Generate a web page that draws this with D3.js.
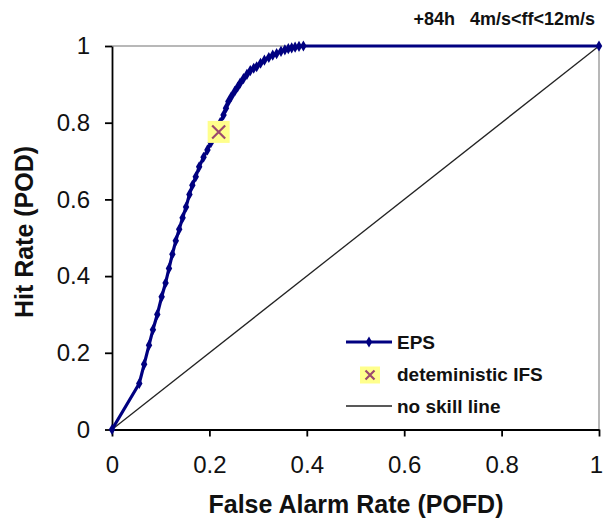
<!DOCTYPE html>
<html>
<head>
<meta charset="utf-8">
<script src="https://cdn.jsdelivr.net/npm/d3@7"></script>
<style>
  body { margin: 0; background: #fff; }
  text { font-family: "Liberation Sans", Arial, sans-serif; }
</style>
</head>
<body>
<div id="chart"></div>
<script>
// EPS ROC curve (false alarm rate vs hit rate)
const epsFar = [0, 0.056, 0.066, 0.076, 0.084, 0.093, 0.102, 0.110, 0.117, 0.124, 0.131, 0.138, 0.145, 0.152,
  0.159, 0.165, 0.172, 0.179, 0.188, 0.196, 0.203, 0.210, 0.216, 0.222, 0.229, 0.234, 0.239, 0.245, 0.252,
  0.258, 0.263, 0.270, 0.277, 0.284, 0.291, 0.297, 0.305, 0.313, 0.322, 0.330, 0.338, 0.347, 0.355, 0.362,
  0.369, 0.376, 0.384, 0.393, 1];
const epsHr = [0, 0.12, 0.17, 0.22, 0.26, 0.30, 0.346, 0.382, 0.42, 0.457, 0.492, 0.522, 0.552, 0.58,
  0.613, 0.637, 0.659, 0.685, 0.71, 0.729, 0.748, 0.765, 0.78, 0.80, 0.82, 0.838, 0.855, 0.868, 0.882,
  0.893, 0.903, 0.915, 0.926, 0.936, 0.942, 0.946, 0.955, 0.963, 0.970, 0.976, 0.980, 0.986, 0.990, 0.993,
  0.995, 0.997, 0.999, 1.0, 1.0];

// deterministic IFS point
const ifsFar = [0.219];
const ifsHr = [0.776];

// no skill line
const noSkillFar = [0, 1];
const noSkillHr = [0, 1];

const tickValues = [0, 0.2, 0.4, 0.6, 0.8, 1];
const legendLabels = ["EPS", "deteministic IFS", "no skill line"];
const titleText = "+84h\u00a0\u00a0 4m/s<ff<12m/s";

const width = 603, height = 524;
const navy = "#000080";

const x = d3.scaleLinear().domain([0, 1]).range([112, 599]);
const y = d3.scaleLinear().domain([0, 1]).range([429.5, 46]);

const svg = d3.select("#chart").append("svg")
  .attr("width", width)
  .attr("height", height);

// top gridline and right border
svg.append("line")
  .attr("x1", x(0)).attr("x2", x(1))
  .attr("y1", y(1)).attr("y2", y(1))
  .attr("stroke", "#a0a0a0").attr("stroke-width", 1.5);
svg.append("line")
  .attr("x1", x(1)).attr("x2", x(1))
  .attr("y1", y(1)).attr("y2", y(0))
  .attr("stroke", "#a0a0a0").attr("stroke-width", 1.5);

// no skill line
const noSkill = noSkillFar.map((d, i) => [d, noSkillHr[i]]);
svg.append("path")
  .datum(noSkill)
  .attr("fill", "none")
  .attr("stroke", "#222")
  .attr("stroke-width", 1.3)
  .attr("d", d3.line().x(d => x(d[0])).y(d => y(d[1])));

// axes
const fmt = d3.format("~g");
const xAxis = svg.append("g")
  .attr("transform", `translate(0,${y(0)})`)
  .call(d3.axisBottom(x).tickValues(tickValues).tickFormat(fmt).tickSize(7).tickSizeOuter(0).tickPadding(19));
const yAxis = svg.append("g")
  .attr("transform", `translate(${x(0)},0)`)
  .call(d3.axisLeft(y).tickValues(tickValues).tickFormat(fmt).tickSize(7).tickSizeOuter(0).tickPadding(15));

[xAxis, yAxis].forEach(g => {
  g.select(".domain").attr("stroke", "#000").attr("stroke-width", 1.8);
  g.selectAll(".tick line").attr("stroke", "#000").attr("stroke-width", 1.8);
  g.selectAll(".tick text")
    .attr("fill", "#111")
    .style("font-size", "24px")
    .style("font-family", "'Liberation Sans', Arial, sans-serif");
});
// keep the last x label inside the window
xAxis.selectAll(".tick text").filter(d => d === 1).attr("dx", -3);

// EPS curve
const eps = epsFar.map((d, i) => [d, epsHr[i]]);
svg.append("path")
  .datum(eps)
  .attr("fill", "none")
  .attr("stroke", navy)
  .attr("stroke-width", 3.2)
  .attr("stroke-linejoin", "round")
  .attr("d", d3.line().x(d => x(d[0])).y(d => y(d[1])));

const diamond = d3.symbol().type(d3.symbolDiamond).size(36);
svg.selectAll(".eps-marker")
  .data(eps)
  .enter()
  .append("path")
  .attr("class", "eps-marker")
  .attr("transform", d => `translate(${x(d[0])},${y(d[1])})`)
  .attr("d", diamond)
  .attr("fill", navy);

// IFS marker
function ifsMarker(g, cx, cy, w, h, r) {
  g.append("rect")
    .attr("x", cx - w / 2).attr("y", cy - h / 2)
    .attr("width", w).attr("height", h)
    .attr("fill", "#ffff8c");
  g.append("path")
    .attr("d", `M${cx - r},${cy - r}L${cx + r},${cy + r}M${cx - r},${cy + r}L${cx + r},${cy - r}`)
    .attr("stroke", "#9c4a6e")
    .attr("stroke-width", 2.2)
    .attr("fill", "none");
}
ifsFar.forEach((d, i) => ifsMarker(svg.append("g"), x(d), y(ifsHr[i]), 22, 22, 6.5));

// legend
const legend = svg.append("g");
const legendY = [342, 374, 406];
legend.append("line")
  .attr("x1", 346).attr("x2", 392)
  .attr("y1", legendY[0]).attr("y2", legendY[0])
  .attr("stroke", navy).attr("stroke-width", 3);
legend.append("path")
  .attr("transform", `translate(369,${legendY[0]})`)
  .attr("d", diamond)
  .attr("fill", navy);
ifsMarker(legend, 370, legendY[1] + 1, 20, 17, 4.5);
legend.append("line")
  .attr("x1", 346).attr("x2", 392)
  .attr("y1", legendY[2]).attr("y2", legendY[2])
  .attr("stroke", "#222").attr("stroke-width", 1.3);

legend.selectAll(".legend-text")
  .data(legendLabels)
  .enter()
  .append("text")
  .attr("class", "legend-text")
  .attr("x", 397)
  .attr("y", (d, i) => legendY[i] + 7)
  .attr("fill", "#111")
  .style("font-size", "19px")
  .style("font-weight", "bold")
  .text(d => d);

// titles
svg.append("text")
  .attr("x", 595).attr("y", 25)
  .attr("text-anchor", "end")
  .attr("fill", "#111")
  .style("font-size", "18px")
  .style("font-weight", "bold")
  .text(titleText);

svg.append("text")
  .attr("x", 356).attr("y", 513)
  .attr("text-anchor", "middle")
  .attr("fill", "#111")
  .style("font-size", "25px")
  .style("font-weight", "bold")
  .text("False Alarm Rate (POFD)");

svg.append("text")
  .attr("transform", `translate(33,232) rotate(-90)`)
  .attr("text-anchor", "middle")
  .attr("fill", "#111")
  .style("font-size", "25px")
  .style("font-weight", "bold")
  .text("Hit Rate (POD)");
</script>
</body>
</html>
